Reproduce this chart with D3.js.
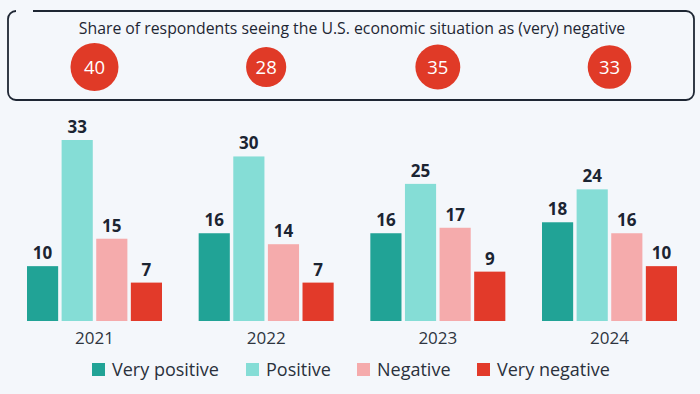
<!DOCTYPE html>
<html><head><meta charset="utf-8">
<script src="https://cdn.jsdelivr.net/npm/d3@7"></script>
<style>html,body{margin:0;padding:0;background:#f4f7fb;}svg{display:block;}</style>
</head><body>
<svg id="c" width="700" height="394"></svg>
<script>
const years = ["2021","2022","2023","2024"];
const seriesNames = ["Very positive","Positive","Negative","Very negative"];
const veryPositive = [10,16,16,18];
const positive = [33,30,25,24];
const negative = [15,14,17,16];
const veryNegative = [7,7,9,10];
const negativeShare = [40,28,35,33];
const titleText = "Share of respondents seeing the U.S. economic situation as (very) negative";
const colors = ["#21a396","#85ddd6","#f5abac","#e23a2a"];

const seriesValues = [veryPositive, positive, negative, veryNegative];
const svg = d3.select("#c");
const font = "'Open Sans', sans-serif";

// Box
const bx0=8, bx1=694, by0=11, by1=100, r=8;
const p = d3.path();
p.moveTo(33, by0);
p.lineTo(bx1-r, by0); p.arcTo(bx1, by0, bx1, by0+r, r);
p.lineTo(bx1, by1-r); p.arcTo(bx1, by1, bx1-r, by1, r);
p.lineTo(bx0+r, by1); p.arcTo(bx0, by1, bx0, by1-r, r);
p.lineTo(bx0, by0+r); p.arcTo(bx0, by0, bx0+r, by0, r);
svg.append("path").attr("d", p.toString()).attr("fill","none")
  .attr("stroke","#1e2633").attr("stroke-width",1.8);

svg.append("text").attr("x",352).attr("y",34).attr("text-anchor","middle")
  .attr("font-family",font).attr("font-size",15.8).attr("font-weight",500).attr("fill","#1e2633").text(titleText);

const x0 = d3.scaleBand().domain(years).range([27,677]).paddingInner(0.2136).paddingOuter(0);
const x1 = d3.scaleBand().domain(seriesNames).range([0, x0.bandwidth()]).paddingInner(0.1).paddingOuter(0);
const y = d3.scaleLinear().domain([0,33]).range([321,140]);
const rScale = d3.scaleSqrt().domain([0,40]).range([0,24]);

// circles
const cg = svg.append("g").selectAll("g").data(years).join("g")
  .attr("transform",(d,i)=>`translate(${x0(d)+x0.bandwidth()/2},67)`);
cg.append("circle").attr("r",(d,i)=>rScale(negativeShare[i])).attr("fill","#e03a27");
cg.append("text").attr("text-anchor","middle").attr("dy","0.36em")
  .attr("font-family",font).attr("font-size",18.5).attr("fill","#fff")
  .text((d,i)=>negativeShare[i]);

// bars
const groups = svg.append("g").selectAll("g").data(years).join("g")
  .attr("transform",d=>`translate(${x0(d)},0)`);
groups.each(function(yr, yi){
  const g = d3.select(this);
  const data = seriesNames.map((s,si)=>({s, si, v: seriesValues[si][yi]}));
  g.selectAll("rect").data(data).join("rect")
    .attr("x",d=>x1(d.s)).attr("width",x1.bandwidth())
    .attr("y",d=>y(d.v)).attr("height",d=>y(0)-y(d.v))
    .attr("fill",d=>colors[d.si]);
  g.selectAll("text.v").data(data).join("text").attr("class","v")
    .attr("x",d=>x1(d.s)+x1.bandwidth()/2).attr("y",d=>y(d.v)-7)
    .attr("text-anchor","middle").attr("font-family",font).attr("font-weight",700)
    .attr("font-size",17).attr("fill","#1b2432").text(d=>d.v);
});

// x axis labels
const xAxis = d3.axisBottom(x0).tickSize(0).tickPadding(8);
const ax = svg.append("g").attr("transform","translate(0,327)").call(xAxis);
ax.select(".domain").remove();
ax.selectAll("text").attr("font-family",font).attr("font-size",17).attr("fill","#2e3540").attr("dy","0.5em");

// legend
const legendX = [92,246,357,477];
const lg = svg.append("g").selectAll("g").data(seriesNames).join("g")
  .attr("transform",(d,i)=>`translate(${legendX[i]},363)`);
lg.append("rect").attr("width",13).attr("height",13).attr("fill",(d,i)=>colors[i]);
lg.append("text").attr("x",20).attr("y",7).attr("dy","0.36em")
  .attr("font-family",font).attr("font-size",18).attr("fill","#2a313c").text(d=>d);
</script>
</body></html>
